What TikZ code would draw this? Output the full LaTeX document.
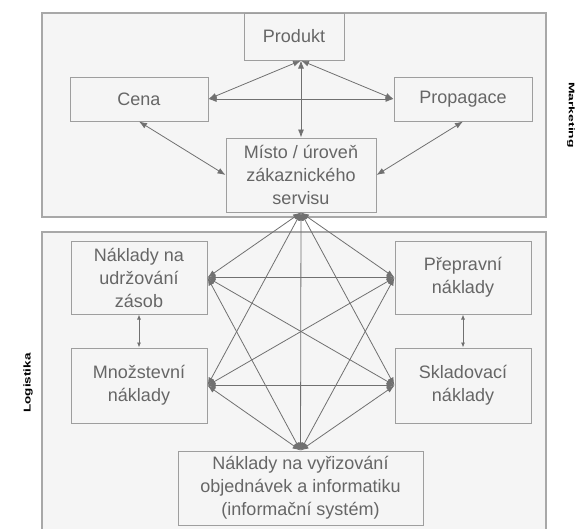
\documentclass[tikz,border=0pt]{standalone}
\usepackage{fontspec}
\setmainfont{Liberation Sans}
\usetikzlibrary{arrows.meta}
\definecolor{boxfill}{HTML}{F5F5F5}
\definecolor{boxline}{HTML}{9E9E9E}
\definecolor{frameline}{HTML}{A8A8A8}
\definecolor{textgray}{HTML}{666666}
\definecolor{linkgray}{HTML}{707070}
\tikzset{
  blok/.style={draw=boxline, line width=1pt, fill=boxfill, text=textgray,
    align=center, inner sep=0pt, font=\fontsize{18}{23}\selectfont},
  ramec/.style={draw=frameline, line width=1.4pt, fill=boxfill},
  vazba/.style={draw=linkgray, line width=0.8pt,
    {Latex[length=8pt,width=6pt]}-{Latex[length=8pt,width=6pt]}},
  kratka/.style={draw=linkgray, line width=0.8pt,
    {Latex[length=5pt,width=4pt]}-{Latex[length=5pt,width=4pt]}},
  popis/.style={font=\bfseries\fontsize{9}{11}\selectfont, inner sep=0pt},
}
\begin{document}
\begin{tikzpicture}[x=1pt, y=-1pt]
\useasboundingbox[fill=white] (0,0) rectangle (577,528);
% ramce marketing a logistika
\draw[ramec] (42,13) rectangle (546,217);
\draw[ramec] (42,232) rectangle (546,560);
\node[popis, rotate=-90, xscale=1.55, yscale=0.9] (marketing) at (571,115) {Marketing};
\node[popis, rotate=90, xscale=1.5, yscale=1.1] (logistika) at (28,383) {Logistika};
% marketingovy mix
\node[blok, minimum width=100pt, minimum height=47pt] (produkt) at (294,36.5) {Produkt};
\node[blok, minimum width=138pt, minimum height=44pt] (cena) at (139,99) {Cena};
\node[blok, minimum width=138pt, minimum height=44pt] (propagace) at (463,99) {Propagace};
\node[blok, minimum width=150pt, minimum height=74pt] (misto) at (301,175)
  {Místo / úroveň\\zákaznického\\servisu};
\coordinate (hrot) at (misto.north |- produkt.south);
\draw[vazba] (hrot) -- (cena.east);
\draw[vazba] (hrot) -- (propagace.west);
\draw[vazba] (hrot) -- (misto.north);
\draw[vazba] (cena.east) -- (propagace.west);
\draw[vazba] (cena.south) -- (misto.west);
\draw[vazba] (propagace.south) -- (misto.east);
% logisticke naklady
\node[blok, minimum width=136pt, minimum height=73pt] (udrzovani) at (139,277.5)
  {Náklady na\\udržování\\zásob};
\node[blok, minimum width=136pt, minimum height=75pt] (mnozstevni) at (139,385.5)
  {Množstevní\\náklady};
\node[blok, minimum width=136pt, minimum height=73pt] (prepravni) at (463,277.5)
  {Přepravní\\náklady};
\node[blok, minimum width=136pt, minimum height=75pt] (skladovaci) at (463,385.5)
  {Skladovací\\náklady};
\node[blok, minimum width=245pt, minimum height=74pt] (vyrizovani) at (300.5,488)
  {Náklady na vyřizování\\objednávek a informatiku\\(informační systém)};
\draw[kratka] (udrzovani.south) -- (mnozstevni.north);
\draw[kratka] (prepravni.south) -- (skladovaci.north);
\foreach \a/\b in {misto.south/udrzovani.east, misto.south/prepravni.west,
    misto.south/mnozstevni.east, misto.south/skladovaci.west,
    misto.south/vyrizovani.north,
    udrzovani.east/prepravni.west, udrzovani.east/skladovaci.west,
    udrzovani.east/vyrizovani.north,
    mnozstevni.east/prepravni.west, mnozstevni.east/skladovaci.west,
    mnozstevni.east/vyrizovani.north,
    prepravni.west/vyrizovani.north, skladovaci.west/vyrizovani.north}
  \draw[vazba] (\a) -- (\b);
\end{tikzpicture}
\end{document}
